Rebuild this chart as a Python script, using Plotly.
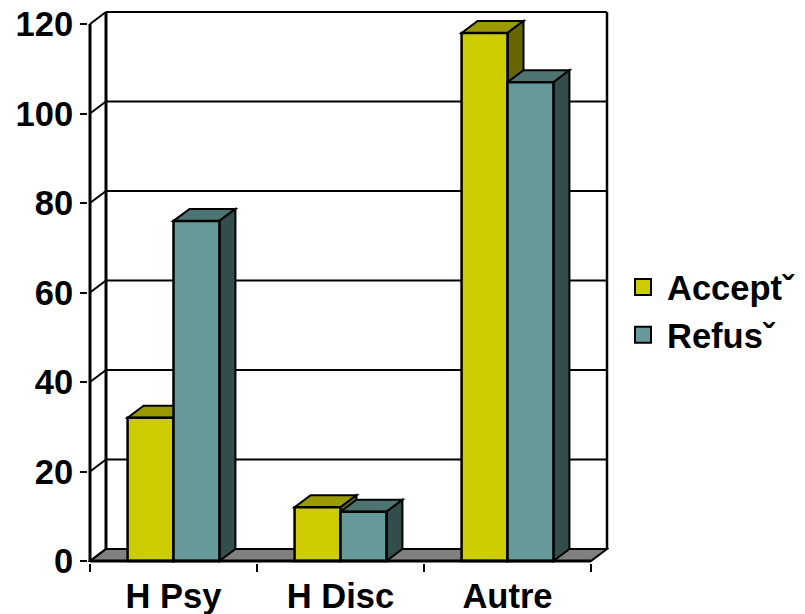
import plotly.graph_objects as go

categories = ["H Psy", "H Disc", "Autre"]
accepte = [32, 12, 118]
refuse = [76, 11, 107]
series_names = ["Acceptˇ", "Refusˇ"]
y_ticks = [0, 20, 40, 60, 80, 100, 120]

# style
FONT = "Liberation Sans, Arial, sans-serif"
FS = 34.5
BARGAP = 0.45
DX = 16 / 167          # depth offset in category units
DY = 12 / 4.475        # depth offset in value units
YMAX = 120
front_cols = ["#CCCC00", "#669999"]
top_cols = ["#999900", "#4D7373"]
side_cols = ["#666600", "#334C4C"]

n = len(categories)
xmin, xmax = -0.5, n - 0.5
bw = (1 - BARGAP) / 2

fig = go.Figure()
series = [accepte, refuse]
for s, vals in enumerate(series):
    fig.add_trace(go.Bar(
        x=categories, y=vals, name=series_names[s], showlegend=False,
        marker=dict(color=front_cols[s], line=dict(color="black", width=2.5)),
    ))
for s in range(2):
    fig.add_trace(go.Scatter(
        x=[None], y=[None], mode="markers", name=series_names[s],
        marker=dict(symbol="square", size=16, color=front_cols[s],
                    line=dict(color="black", width=2)),
    ))

shapes = []
def line(x0, y0, x1, y1, w=2, layer="below"):
    shapes.append(dict(type="line", xref="x", yref="y", x0=x0, y0=y0, x1=x1, y1=y1,
                       line=dict(color="black", width=w), layer=layer))
def poly(pts, fill, layer="below", w=2):
    p = "M " + " L ".join(f"{x},{y}" for x, y in pts) + " Z"
    shapes.append(dict(type="path", xref="x", yref="y", path=p, fillcolor=fill,
                       line=dict(color="black", width=w), layer=layer))

# floor
poly([(xmin, 0), (xmax, 0), (xmax + DX, DY), (xmin + DX, DY)], "#808080")
# back wall gridlines
for t in y_ticks[1:]:
    line(xmin + DX, t + DY, xmax + DX, t + DY, 2)
# back wall edges
line(xmin + DX, DY, xmin + DX, YMAX + DY, 3)
line(xmax + DX, DY, xmax + DX, YMAX + DY, 2.5)
# left wall diagonals
for t in y_ticks:
    line(xmin, t, xmin + DX, t + DY, 2)

# 3D faces of bars
for i in range(n):
    for s, vals in enumerate(series):
        v = vals[i]
        L = i - bw + s * bw
        R = L + bw
        poly([(L, v), (L + DX, v + DY), (R + DX, v + DY), (R, v)], top_cols[s])
        poly([(R, 0), (R + DX, DY), (R + DX, v + DY), (R, v)], side_cols[s])

# front axis lines
line(xmin, 0, xmin, YMAX, 3, "above")
line(xmin, 0, xmax, 0, 3, "above")

px_x = 167
px_y = 4.475
pad = 2
x_range = [xmin - pad / px_x, xmax + DX + pad / px_x]
y_range = [-pad / px_y, YMAX + DY + pad / px_y]
plot_w = (x_range[1] - x_range[0]) * px_x
plot_h = (y_range[1] - y_range[0]) * px_y
ml = 90 - pad
mt = 12 - pad
mr = 805 - ml - plot_w
mb = 614 - mt - plot_h

fig.update_layout(
    width=805, height=614,
    margin=dict(l=ml, r=mr, t=mt, b=mb, autoexpand=False),
    paper_bgcolor="white", plot_bgcolor="white",
    barmode="group", bargap=BARGAP, bargroupgap=0,
    shapes=shapes,
    font=dict(family=FONT, size=FS, color="black", weight="bold"),
    xaxis=dict(type="category", range=x_range, automargin=False,
               showgrid=False, zeroline=False, showline=False,
               ticks="outside", tickson="boundaries", ticklen=8, tickwidth=2,
               tickcolor="black", ticklabelstandoff=9,
               tickfont=dict(family=FONT, size=FS, weight="bold")),
    yaxis=dict(range=y_range, tickmode="array", tickvals=y_ticks, automargin=False,
               showgrid=False, zeroline=False, showline=False,
               ticks="outside", ticklen=7, tickwidth=2, tickcolor="black",
               tickfont=dict(family=FONT, size=FS, weight="bold")),
    legend=dict(x=(619 - ml) / plot_w, xanchor="left", y=(562 - 310) / plot_h,
                yanchor="middle", itemwidth=38,
                font=dict(family=FONT, size=FS, weight="bold"),
                bgcolor="rgba(0,0,0,0)"),
)

fig.write_html("out.html")
